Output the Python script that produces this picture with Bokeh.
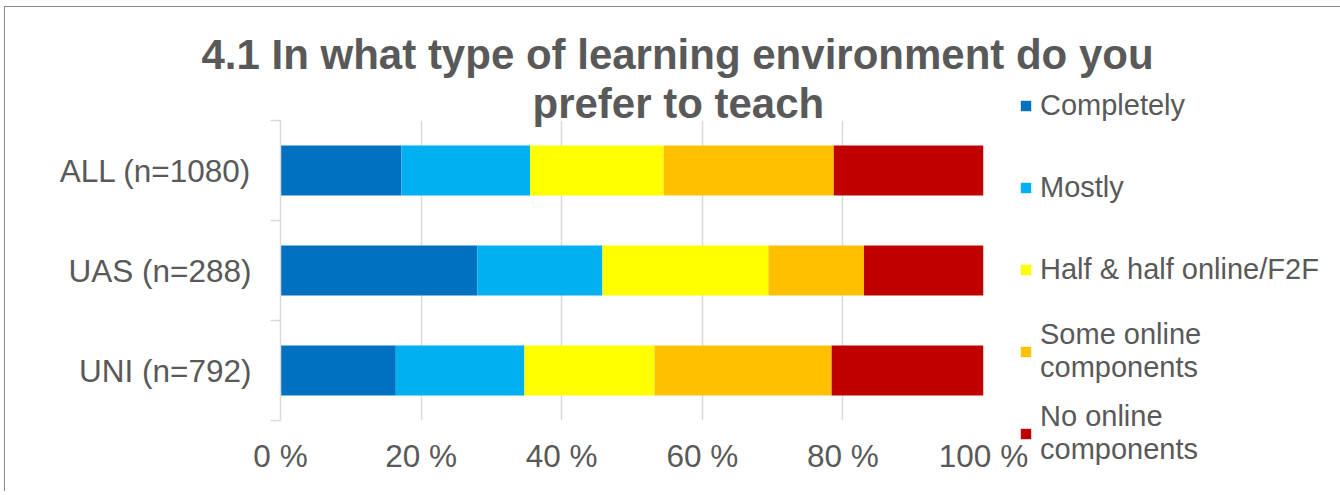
from bokeh.plotting import figure
from bokeh.models import (Range1d, FixedTicker, PrintfTickFormatter, Title,
                          Legend, LegendItem, ColumnDataSource)
from bokeh.embed import file_html
from bokeh.resources import INLINE

# ---- data ----
categories = ["ALL (n=1080)", "UAS (n=288)", "UNI (n=792)"]
series_names = ["Completely", "Mostly", "Half & half online/F2F",
                "Some online\ncomponents", "No online\ncomponents"]
completely = [17.2, 28.0, 16.4]
mostly = [18.3, 17.8, 18.3]
half_half = [19.0, 23.6, 18.5]
some_online = [24.2, 13.6, 25.2]
no_online = [21.3, 17.0, 21.6]
colors = ["#0070C0", "#00B0F0", "#FFFF00", "#FFC000", "#C00000"]
x_ticks = [0, 20, 40, 60, 80, 100]
title_lines = ["4.1 In what type of learning environment do you",
               "prefer to teach"]

FONT = "Liberation Sans"
TXT = "#595959"
GRID = "#d9d9d9"

n = len(categories)
ypos = [n - i - 0.5 for i in range(n)]
bounds = list(range(n + 1))

fields = ["s0", "s1", "s2", "s3", "s4"]
source = ColumnDataSource(dict(y=ypos, s0=completely, s1=mostly, s2=half_half,
                               s3=some_online, s4=no_online))

p = figure(frame_width=703, frame_height=300,
           x_range=Range1d(0, 100), y_range=Range1d(0, n),
           output_backend="svg", toolbar_location=None,
           min_border_left=275, min_border_right=352,
           min_border_top=113, min_border_bottom=71)
p.styles = {"border-top": "1px solid #8c8c8c", "border-left": "1px solid #8c8c8c",
            "margin-left": "4px", "margin-top": "6px"}
p.outline_line_color = None

rs = p.hbar_stack(fields, y="y", height=0.5, color=colors, source=source,
                  line_color=None)

# x axis
p.xaxis.ticker = FixedTicker(ticks=x_ticks)
p.xaxis.formatter = PrintfTickFormatter(format="%d %%")
p.xaxis.axis_line_color = None
p.xaxis.major_tick_line_color = None
p.xaxis.minor_tick_line_color = None
p.xaxis.major_label_text_font = FONT
p.xaxis.major_label_text_font_size = "31.5px"
p.xaxis.major_label_text_color = TXT
p.xaxis.major_label_standoff = 11

# y axis
p.yaxis.ticker = FixedTicker(ticks=ypos, minor_ticks=bounds)
p.yaxis.major_label_overrides = {y: c for y, c in zip(ypos, categories)}
p.yaxis.axis_line_color = GRID
p.yaxis.axis_line_width = 1.5
p.yaxis.major_tick_line_color = None
p.yaxis.major_tick_out = 0
p.yaxis.major_tick_in = 0
p.yaxis.minor_tick_line_color = GRID
p.yaxis.minor_tick_line_width = 1.5
p.yaxis.minor_tick_out = 10
p.yaxis.minor_tick_in = 0
p.yaxis.major_label_text_font = FONT
p.yaxis.major_label_text_font_size = "31.5px"
p.yaxis.major_label_text_color = TXT
p.yaxis.major_label_standoff = 19

p.xgrid.ticker = FixedTicker(ticks=x_ticks)
p.xgrid.grid_line_color = GRID
p.xgrid.grid_line_width = 1.5
p.ygrid.visible = False

# title (later-added Title sits further from the frame)
for t, so, off in zip(reversed(title_lines), [-12, 11], [252, -79]):
    p.add_layout(Title(text=t, align="left", offset=off, standoff=so,
                       text_font=FONT, text_font_size="42px",
                       text_font_style="bold", text_color=TXT), "above")

# legend
items = [LegendItem(label=nm, renderers=[r]) for nm, r in zip(series_names, rs)]
legend = Legend(items=items, location=(36, -47), orientation="vertical",
                label_text_font=FONT, label_text_font_size="29px",
                label_text_color=TXT, glyph_width=13, glyph_height=13,
                label_standoff=8, label_height=68, spacing=14,
                padding=0, margin=0, border_line_color=None,
                background_fill_alpha=0)
p.add_layout(legend, "right")

open("out.html", "w").write(file_html(p, INLINE))
